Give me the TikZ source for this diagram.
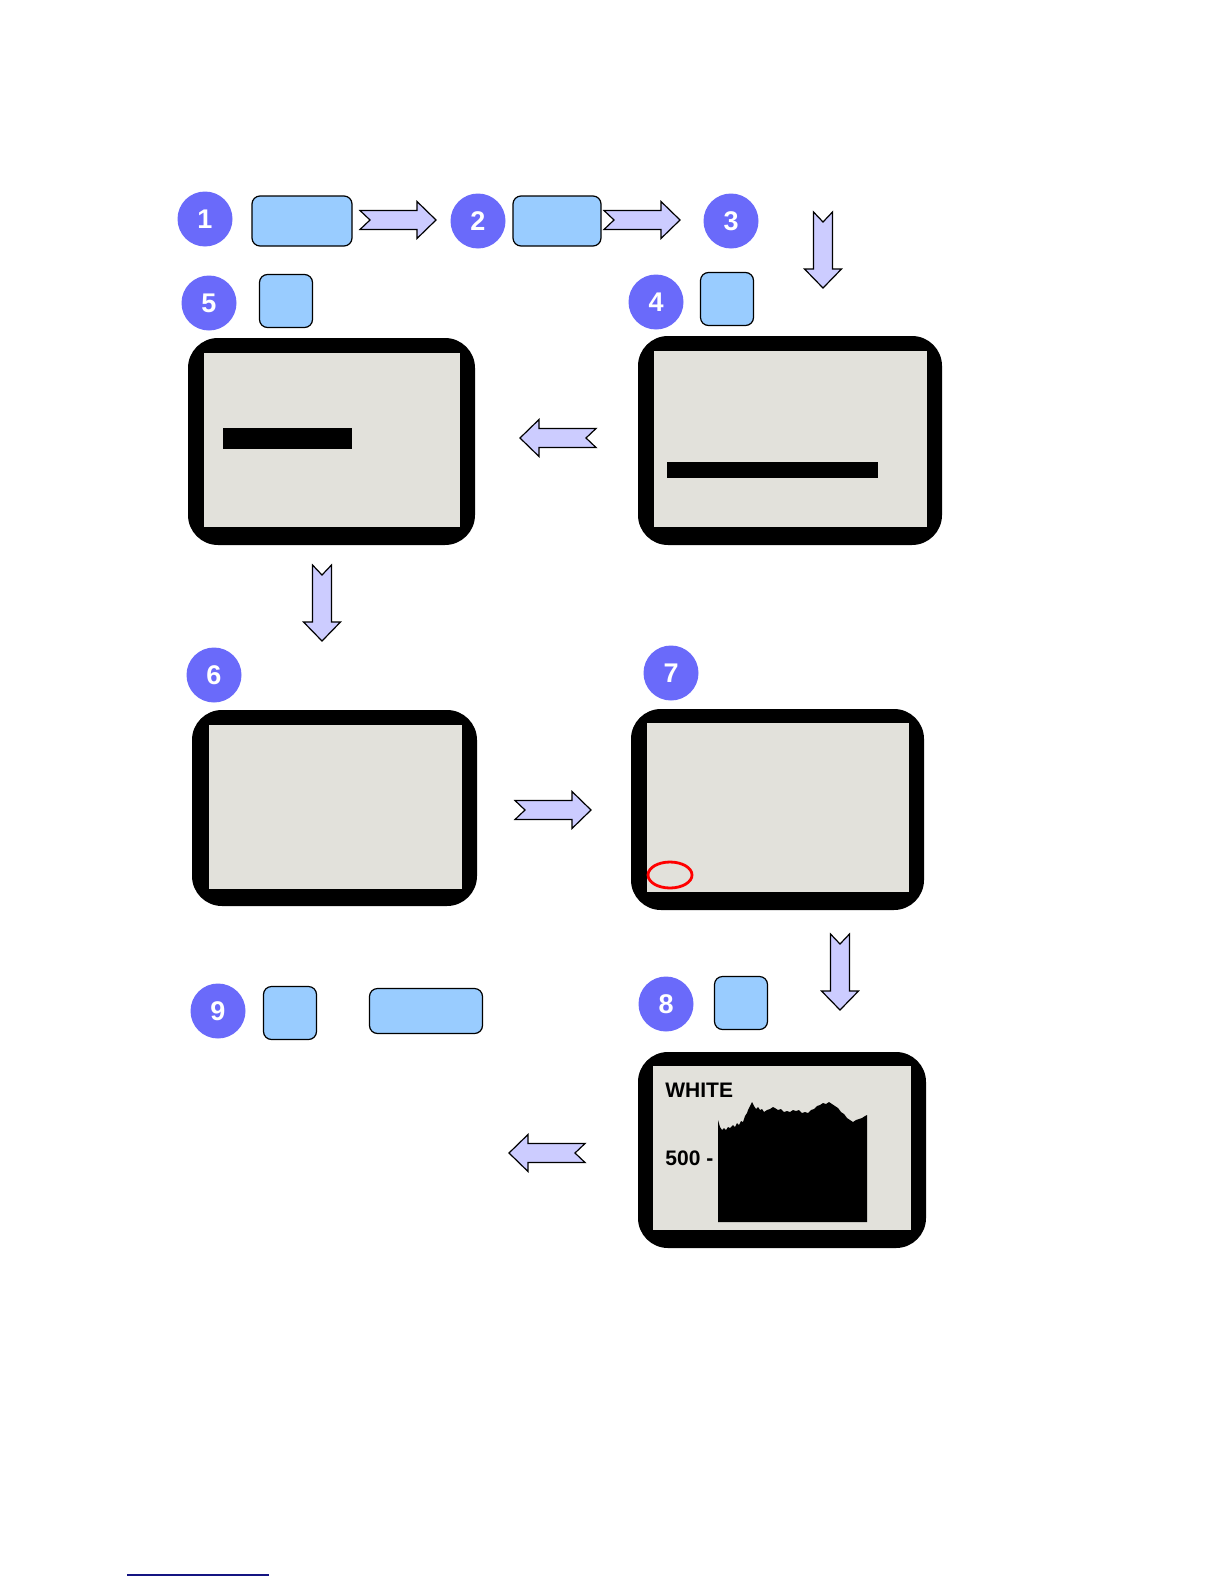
\documentclass[tikz,border=0pt]{standalone}
\usepackage{fontspec}
\setmainfont{Liberation Sans}
\usetikzlibrary{shapes.geometric}
\definecolor{badgeblue}{RGB}{106,106,250}
\definecolor{keyblue}{RGB}{153,204,255}
\definecolor{arrowlilac}{RGB}{204,204,255}
\definecolor{lcdgray}{RGB}{226,225,219}
\definecolor{rulenavy}{RGB}{20,20,130}

\begin{document}
\begin{tikzpicture}[
      x=0.5pt,y=-0.5pt,
      badge/.style={circle,fill=badgeblue,minimum size=27.5pt,inner sep=0pt,text=white,font=\fontsize{13.5}{15}\selectfont\bfseries},
      key/.style={draw=black,fill=keyblue,rounded corners=4pt,line width=0.6pt,inner sep=0pt},
      frame/.style={fill=black,rounded corners=15pt},
      lcd/.style={fill=lcdgray},
      bar/.style={fill=black},
      hotspot/.style={ellipse,draw=red,line width=1.4pt,minimum width=22pt,minimum height=13pt,inner sep=0pt},
      readout/.style={anchor=base west,inner sep=0pt,font=\fontsize{10.5}{12}\selectfont\bfseries},
      blockarrow/.pic={\draw[fill=arrowlilac,line width=0.6pt,line join=miter]
        (-38,-9.5) -- (19,-9.5) -- (19,-18.5) -- (38,0) -- (19,18.5) -- (19,9.5) -- (-38,9.5) -- (-28,0) -- cycle;}]
    \useasboundingbox (0,0) rectangle (1224,1584);
    % top row
    \node[badge] (n1) at (205,219) {1};
    \node[key,minimum width=50pt,minimum height=25pt] (k1) at (302,221) {};
    \node[badge] (n2) at (478,221) {2};
    \node[key,minimum width=44pt,minimum height=25pt] (k2) at (557,221) {};
    \node[badge] (n3) at (731,221) {3};
    \pic at (398,220) {blockarrow};
    \pic at (642,220) {blockarrow};
    \pic[rotate=-90] at (823,250) {blockarrow};
    % screens 5 and 4
    \node[badge] (n5) at (209,303) {5};
    \node[key,minimum size=26.5pt] (k5) at (286,301) {};
    \node[badge] (n4) at (656,302) {4};
    \node[key,minimum size=26.5pt] (k4) at (727,299) {};
    \fill[frame] (188,338) rectangle (475,545);
    \fill[lcd] (204,353) rectangle (460,527);
    \fill[bar] (223,428) rectangle (352,449);
    \fill[frame] (638,336) rectangle (942,545);
    \fill[lcd] (654,351) rectangle (927,527);
    \fill[bar] (667,462) rectangle (878,478);
    \pic[rotate=180] at (558,438) {blockarrow};
    \pic[rotate=-90] at (322,603) {blockarrow};
    % screens 6 and 7
    \node[badge] (n6) at (214,675) {6};
    \node[badge] (n7) at (671,673) {7};
    \fill[frame] (192,710) rectangle (477,906);
    \fill[lcd] (209,725) rectangle (462,889);
    \fill[frame] (631,709) rectangle (924,910);
    \fill[lcd] (647,723) rectangle (909,892);
    \node[hotspot] (spot) at (670,875) {};
    \pic at (553,810) {blockarrow};
    \pic[rotate=-90] at (840,972) {blockarrow};
    % screen 8 and step 9
    \node[badge] (n8) at (666,1004) {8};
    \node[key,minimum size=26.5pt] (k8) at (741,1003) {};
    \node[badge] (n9) at (218,1011) {9};
    \node[key,minimum size=26.5pt] (k9) at (290,1013) {};
    \node[key,minimum width=56.5pt,minimum height=22.5pt] (k9b) at (426,1011) {};
    \fill[frame] (638,1052) rectangle (926,1248);
    \fill[lcd] (653,1066) rectangle (911,1230);
    \node[readout] (white) at (665,1097) {WHITE};
    \node[readout] (level) at (665,1165) {500 -};
    \fill[bar] (718,1222) -- (718,1120) -- (720,1127) -- (722,1130) -- (724,1128) -- (726,1130)
      -- (728,1127) -- (730,1128) -- (733,1125) -- (735,1127) -- (737,1123) -- (739,1125)
      -- (741,1121) -- (743,1122) -- (745,1116) -- (747,1113) -- (748,1110) -- (750,1106)
      -- (752,1102) -- (754,1106) -- (756,1109) -- (758,1107) -- (760,1110) -- (762,1109)
      -- (764,1112) -- (767,1110) -- (770,1109) -- (773,1107) -- (775,1108) -- (778,1110)
      -- (781,1109) -- (784,1112) -- (787,1111) -- (790,1112) -- (793,1110) -- (796,1111)
      -- (799,1110) -- (802,1113) -- (805,1112) -- (808,1113) -- (811,1110) -- (814,1109)
      -- (817,1106) -- (820,1105) -- (823,1103) -- (826,1104) -- (829,1102) -- (832,1104)
      -- (835,1106) -- (838,1108) -- (841,1112) -- (844,1114) -- (847,1118) -- (850,1120)
      -- (853,1122) -- (856,1120) -- (859,1119) -- (862,1118) -- (865,1116) -- (867,1115)
      -- (867,1222) -- cycle;
    \pic[rotate=180] at (547,1153) {blockarrow};
    % footnote rule
    \coordinate (ruleA) at (127,1575);
    \coordinate (ruleB) at (269,1575);
    \draw[rulenavy,line width=0.7pt] (ruleA) -- (ruleB);
  \end{tikzpicture}
\end{document}
